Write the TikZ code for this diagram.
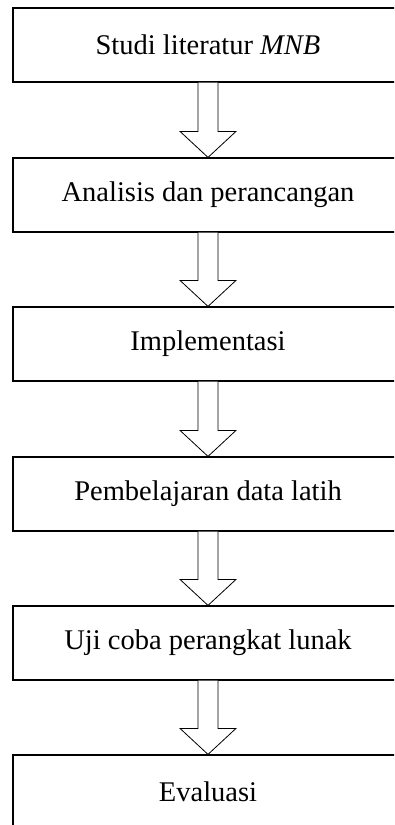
\documentclass[tikz,border=0pt]{standalone}
\usepackage{fontspec}
\setmainfont{Liberation Serif}
\usetikzlibrary{calc}
\begin{document}
\begin{tikzpicture}[x=1pt,y=-1pt,
  stepbox/.style={draw=black,line width=1.2pt,fill=white,minimum width=390pt,
    minimum height=74pt,inner sep=0pt,font=\fontsize{28.5}{34}\selectfont},
  blockarrow/.style={draw=black,line width=0.8pt,fill=white,line join=miter}]
\useasboundingbox (0,0) rectangle (394,825);
\clip (0,0) rectangle (394,825);
\node[stepbox] (s1) at (208,45)    {Studi literatur \textit{MNB}};
\node[stepbox] (s2) at (208,195)   {Analisis dan perancangan};
\node[stepbox] (s3) at (208,344)   {Implementasi};
\node[stepbox] (s4) at (208,494)   {Pembelajaran data latih};
\node[stepbox] (s5) at (208,643)   {Uji coba perangkat lunak};
\node[stepbox] (s6) at (208,792)   {Evaluasi};
\foreach \a/\b in {s1/s2,s2/s3,s3/s4,s4/s5,s5/s6}{
  \draw[blockarrow] ($(\a.south)+(-10,0)$) -- ($(\b.north)+(-10,-26)$)
    -- ($(\b.north)+(-28,-26)$) -- (\b.north) -- ($(\b.north)+(28,-26)$)
    -- ($(\b.north)+(10,-26)$) -- ($(\a.south)+(10,0)$);
}
\end{tikzpicture}
\end{document}
